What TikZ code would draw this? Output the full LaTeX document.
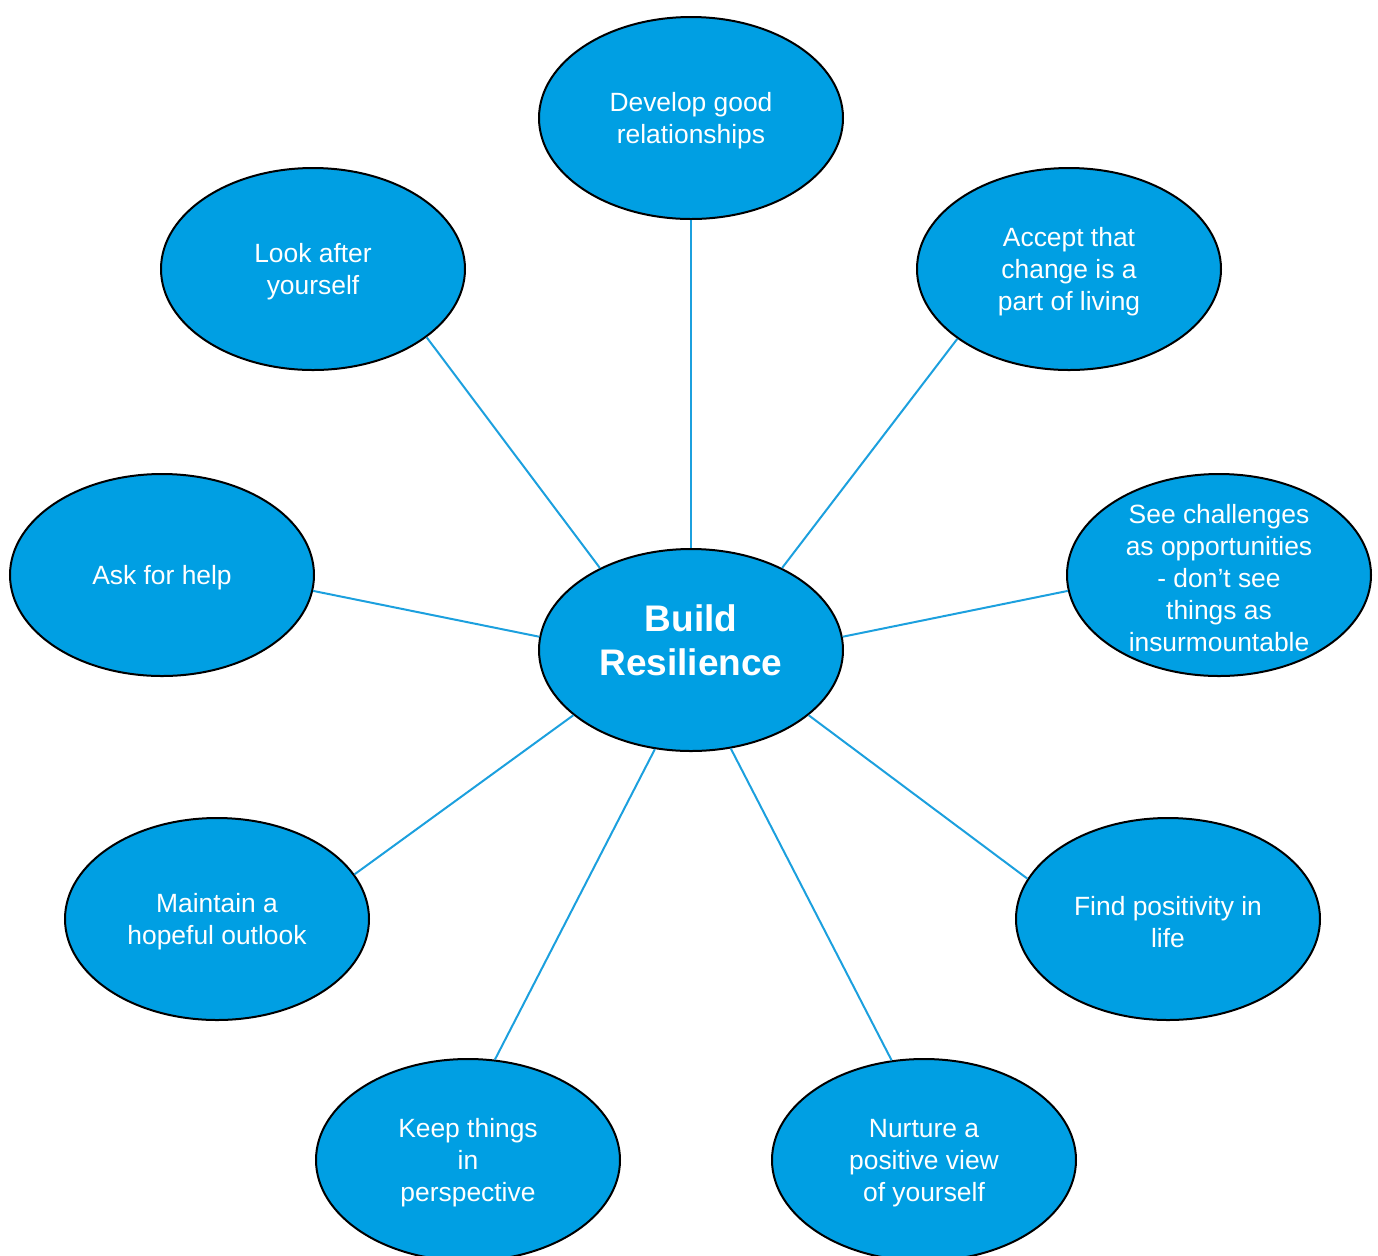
\documentclass[tikz,border=0pt]{standalone}
\usepackage{fontspec}
\setmainfont{Liberation Sans}
\usetikzlibrary{shapes.geometric}
\definecolor{bubblue}{RGB}{0,159,227}
\definecolor{linkblue}{RGB}{28,160,222}
\tikzset{
  bubble/.style={ellipse, draw=black, line width=1pt, fill=bubblue,
    minimum width=152pt, minimum height=101pt, inner sep=0pt},
  txt/.style={text=white, align=center, yshift=-1.5pt, font=\fontsize{13.2}{16}\selectfont},
  link/.style={linkblue, line width=1pt}
}
\begin{document}
\begin{tikzpicture}[x=0.5pt,y=-0.5pt]
    \useasboundingbox (0,0) rectangle (1378,1255);
    \node (res) at (691,650)[bubble, label={[txt, font=\fontsize{18.5}{22}\selectfont\bfseries, yshift=6.5pt]center:Build\\Resilience}]{};
    \node (dev) at (691,118)[bubble, label={[txt]center:Develop good\\relationships}]{};
    \node (look) at (313,269)[bubble, label={[txt]center:Look after\\yourself}]{};
    \node (accept) at (1069,269)[bubble, label={[txt]center:Accept that\\change is a\\part of living}]{};
    \node (ask) at (162,575)[bubble, label={[txt]center:Ask for help}]{};
    \node (see) at (1219,575)[bubble, label={[txt]center:See challenges\\as opportunities\\- don’t see\\things as\\insurmountable}]{};
    \node (maint) at (217,919)[bubble, label={[txt]center:Maintain a\\hopeful outlook}]{};
    \node (find) at (1168,919)[bubble, label={[txt]center:Find positivity in\\life}]{};
    \node (keep) at (468,1160)[bubble, label={[txt]center:Keep things\\in\\perspective}]{};
    \node (nurt) at (924,1160)[bubble, label={[txt]center:Nurture a\\positive view\\of yourself}]{};
    \foreach \n/\p/\q in {dev/-90/90, look/-31/138, accept/-148/42, ask/-6/175,
      see/-174/5.5, maint/18/-151, find/164/-29, keep/75/-110, nurt/108.5/-68}{
    \draw[link] (\n.\p)--(res.\q);
    }
\end{tikzpicture}
\end{document}
